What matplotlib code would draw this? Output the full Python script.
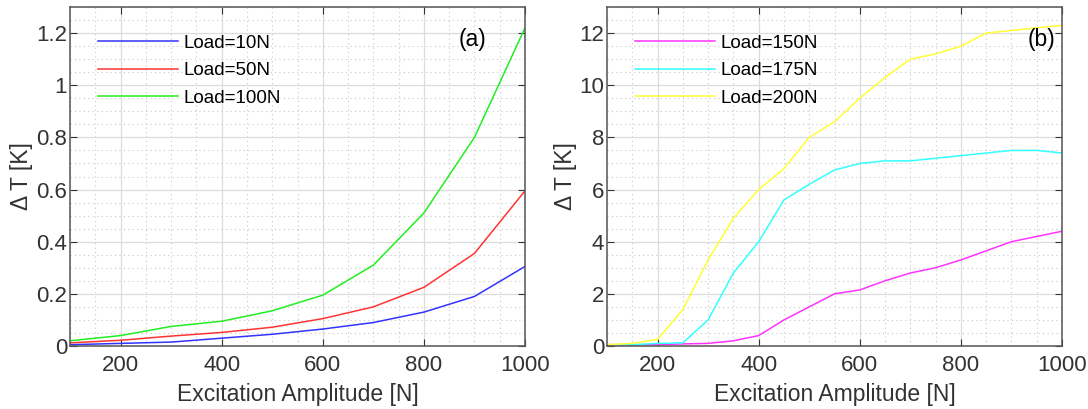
import matplotlib.pyplot as plt
from matplotlib.ticker import MultipleLocator

plt.rcParams['font.family'] = ['Liberation Sans', 'DejaVu Sans']

# panel (a)
amp_a = [100, 200, 300, 400, 500, 600, 700, 800, 900, 1000]
load10 = [0.005, 0.010, 0.015, 0.030, 0.045, 0.065, 0.090, 0.130, 0.190, 0.305]
load50 = [0.012, 0.022, 0.038, 0.052, 0.072, 0.105, 0.150, 0.225, 0.355, 0.595]
load100 = [0.020, 0.040, 0.075, 0.095, 0.135, 0.195, 0.310, 0.510, 0.800, 1.220]

# panel (b)
amp_b = [100, 150, 200, 250, 300, 350, 400, 450, 500, 550,
         600, 650, 700, 750, 800, 850, 900, 950, 1000]
load150 = [0.05, 0.05, 0.05, 0.08, 0.10, 0.20, 0.40, 1.00, 1.50, 2.00,
           2.15, 2.50, 2.80, 3.00, 3.30, 3.65, 4.00, 4.20, 4.40]
load175 = [0.05, 0.05, 0.10, 0.12, 1.00, 2.80, 4.00, 5.60, 6.20, 6.75,
           7.00, 7.10, 7.10, 7.20, 7.30, 7.40, 7.50, 7.50, 7.40]
load200 = [0.05, 0.10, 0.25, 1.40, 3.30, 4.90, 6.00, 6.80, 8.00, 8.60,
           9.50, 10.30, 11.00, 11.20, 11.50, 12.00, 12.10, 12.20, 12.30]

fig = plt.figure(figsize=(10.88, 4.09), dpi=100)
ax1 = fig.add_axes([70/1088, 1 - 346/409, 455/1088, 339/409])
ax2 = fig.add_axes([607/1088, 1 - 346/409, 455/1088, 339/409])


def style(ax, ymax, ymaj, ymin):
    ax.set_xlim(100, 1000)
    ax.set_ylim(0, ymax)
    ax.xaxis.set_major_locator(MultipleLocator(200))
    ax.xaxis.set_minor_locator(MultipleLocator(50))
    ax.yaxis.set_major_locator(MultipleLocator(ymaj))
    ax.yaxis.set_minor_locator(MultipleLocator(ymin))
    ax.grid(which='major', color='#dcdcdc', lw=0.9, ls='-')
    ax.grid(which='minor', color='#c8c8c8', lw=0.8, ls=(0, (1, 3)))
    ax.set_axisbelow(True)
    ax.tick_params(which='both', direction='in', top=True, right=True,
                   labelsize=16, colors='#333333')
    ax.tick_params(which='major', length=5, width=0.8)
    ax.tick_params(axis='x', pad=6.5)
    ax.tick_params(axis='y', pad=2)
    ax.tick_params(which='minor', length=0)
    for s in ax.spines.values():
        s.set_color('#555555')
        s.set_linewidth(1.1)
    ax.set_xlabel('Excitation Amplitude [N]', fontsize=16.5, color='#333333', labelpad=5)
    ax.set_ylabel('Δ T [K]', fontsize=16.5, color='#333333', labelpad=2)


def legend(ax):
    ax.legend(loc='upper left', bbox_to_anchor=(0.044, 0.94), frameon=False,
              fontsize=13.5, handlelength=4.3, handletextpad=0.3,
              labelspacing=0.55, borderaxespad=0)


ax1.plot(amp_a, load10, color='#3333ff', lw=1.1, label='Load=10N')
ax1.plot(amp_a, load50, color='#ff3333', lw=1.1, label='Load=50N')
ax1.plot(amp_a, load100, color='#22ee22', lw=1.1, label='Load=100N')
style(ax1, 1.3, 0.2, 0.05)
ax1.yaxis.set_major_formatter(lambda v, p: f'{v:g}')
legend(ax1)
ax1.text(0.885, 0.905, '(a)', transform=ax1.transAxes, fontsize=16.5,
         ha='center', va='center')

ax2.plot(amp_b, load150, color='#ff33ff', lw=1.1, label='Load=150N')
ax2.plot(amp_b, load175, color='#33ffff', lw=1.1, label='Load=175N')
ax2.plot(amp_b, load200, color='#ffff33', lw=1.1, label='Load=200N')
style(ax2, 13, 2, 0.5)
legend(ax2)
ax2.text(0.955, 0.905, '(b)', transform=ax2.transAxes, fontsize=16.5,
         ha='center', va='center')

fig.savefig('out.png', dpi=100)
